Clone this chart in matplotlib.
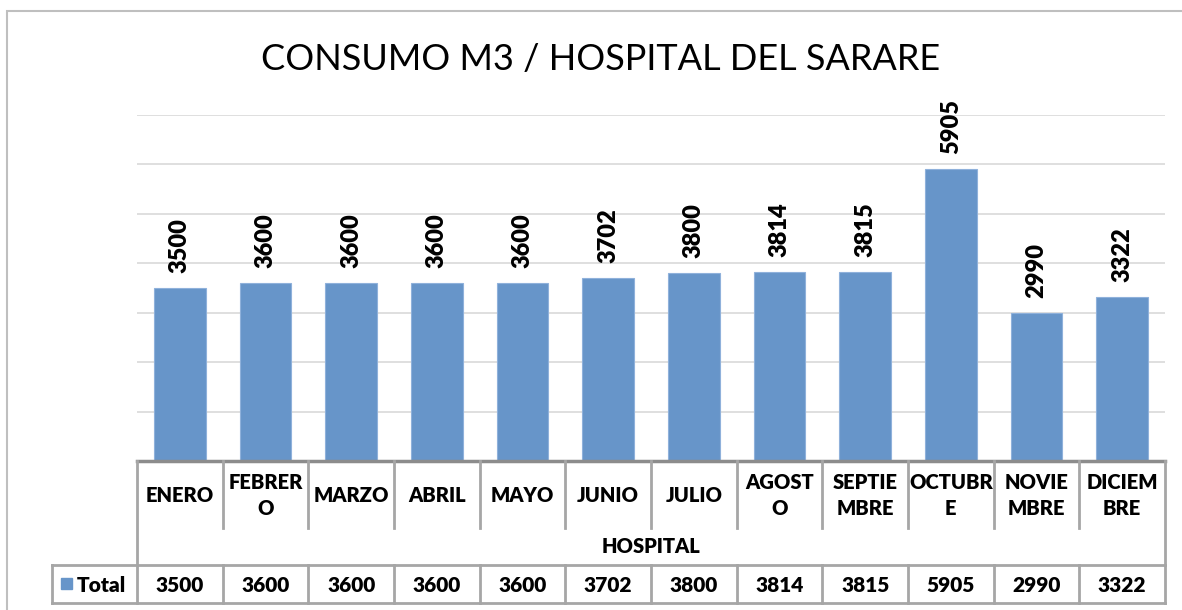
import matplotlib
matplotlib.use("Agg")
import matplotlib.pyplot as plt
from matplotlib.patches import Rectangle

# datos del grafico
meses = ["ENERO", "FEBRER\nO", "MARZO", "ABRIL", "MAYO", "JUNIO", "JULIO",
         "AGOST\nO", "SEPTIE\nMBRE", "OCTUBR\nE", "NOVIE\nMBRE", "DICIEM\nBRE"]
consumo = [3500, 3600, 3600, 3600, 3600, 3702, 3800, 3814, 3815, 5905, 2990, 3322]
titulo = "CONSUMO M3 / HOSPITAL DEL SARARE"
grupo = "HOSPITAL"
serie = "Total"

W, H = 1182, 610
azul = "#6795c9"
gris = "#a6a6a6"
plt.rcParams['font.family'] = ['Lato', 'DejaVu Sans']
peso = "heavy"

fig = plt.figure(figsize=(W / 100, H / 100), dpi=100)

# marco exterior
fig.patches.append(Rectangle((7 / W, -0.01), 1.2, 1 - 11 / H + 0.01, transform=fig.transFigure,
                             fill=False, edgecolor="#bfbfbf", linewidth=1.5))

# area de barras
x0, x1 = 137, 1165
y_base, y_top = 461, 115
ax = fig.add_axes([x0 / W, 1 - y_base / H, (x1 - x0) / W, (y_base - y_top) / H])
n = len(consumo)
pos = list(range(n))
ax.bar(pos, consumo, width=0.6, color=azul, edgecolor="#8fb1db", linewidth=0.8, zorder=3)
ax.set_xlim(-0.5, n - 0.5)
ax.set_ylim(0, 7000)
ax.set_yticks(range(1000, 7001, 1000))
ax.yaxis.grid(True, color="#d9d9d9", linewidth=1.2, zorder=0)
ax.set_xticks([])
ax.tick_params(left=False, labelleft=False)
for s in ax.spines.values():
    s.set_visible(False)
for p, v in zip(pos, consumo):
    ax.annotate(str(v), (p, v), xytext=(0, 11), textcoords="offset points",
                rotation=90, ha="center", va="bottom", fontsize=17, fontweight=peso)

fig.text(0.508, 1 - 59 / H, titulo, ha="center", va="center", fontsize=26)

# tabla de datos
t_left = 52
r1, r2, r3 = 528, 565, 603
col = (x1 - x0) / n
tb = fig.add_axes([0, 0, 1, 1])
tb.set_xlim(0, W)
tb.set_ylim(H, 0)
tb.axis("off")
lw = 2
tb.plot([x0, x1], [y_base, y_base], color="#8c8c8c", lw=2.5)
tb.plot([x0, x0], [y_base, r3], color=gris, lw=lw)
tb.plot([x1, x1], [y_base, r3], color=gris, lw=lw)
tb.plot([t_left, x1], [r2, r2], color=gris, lw=lw)
tb.plot([t_left, x1], [r3, r3], color=gris, lw=lw)
tb.plot([t_left, t_left], [r2, r3], color=gris, lw=lw)
for i in range(1, n):
    xb = x0 + i * col
    tb.plot([xb, xb], [y_base, r1], color=gris, lw=lw)
    tb.plot([xb, xb], [r2, r3], color=gris, lw=lw)
for i, (m, v) in enumerate(zip(meses, consumo)):
    xc = x0 + (i + 0.5) * col
    tb.text(xc, (y_base + r1) / 2 + 1, m, ha="center", va="center", fontsize=14.5,
            fontweight=peso, linespacing=1.4)
    tb.text(xc, (r2 + r3) / 2 + 1, str(v), ha="center", va="center", fontsize=15,
            fontweight=peso)
tb.text((x0 + x1) / 2, (r1 + r2) / 2, grupo, ha="center", va="center", fontsize=14.5,
        fontweight=peso)
tb.add_patch(Rectangle((61, 578), 11, 11, color=azul))
tb.text(77, (r2 + r3) / 2 + 1, serie, ha="left", va="center", fontsize=15, fontweight=peso)

fig.savefig("out.png", dpi=100)
